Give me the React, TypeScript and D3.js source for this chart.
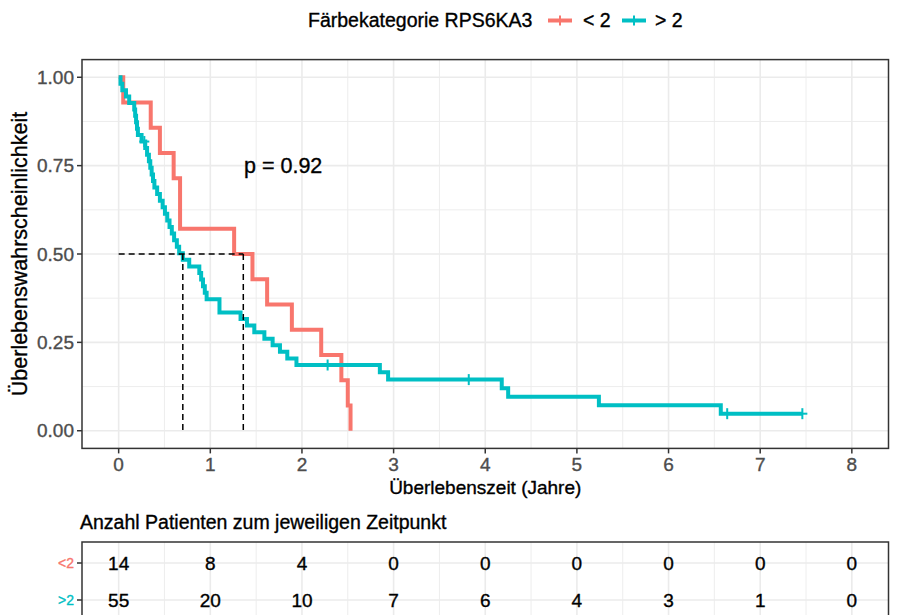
import React from 'react';
import * as d3 from 'd3';

// Kaplan-Meier reading of the two staining groups (time in years)
const lowEvents = [0.05, 0.35, 0.45, 0.6, 0.67, 0.67, 1.26, 1.46, 1.62, 1.89, 2.21, 2.43, 2.5, 2.53];
const lowCensored: number[] = [];

const highEvents = [
  0.02, 0.04, 0.08, 0.115, 0.17, 0.18, 0.19, 0.2, 0.21, 0.25,
  0.29, 0.31, 0.33, 0.345, 0.36, 0.375, 0.39, 0.42, 0.45, 0.48, 0.505, 0.53,
  0.555, 0.58, 0.605, 0.635, 0.66, 0.7, 0.77, 0.88, 0.9, 0.92, 0.94, 0.96,
  1.1, 1.1, 1.33, 1.4, 1.48, 1.59, 1.68, 1.76, 1.84, 1.94,
  2.85, 2.94, 4.18, 4.25, 5.24, 6.57,
];
const highCensored = [0.28, 2.28, 3.82, 6.64, 7.46];

const groupLabels = ['< 2', '> 2'];
const groupColors = ['#F8766D', '#00BFC4'];

const xTicks = [0, 1, 2, 3, 4, 5, 6, 7, 8];
const yTicks = [0, 0.25, 0.5, 0.75, 1];
const yTickLabels = ['0.00', '0.25', '0.50', '0.75', '1.00'];

const riskTimes = [0, 1, 2, 3, 4, 5, 6, 7, 8];
const riskLow = [14, 8, 4, 0, 0, 0, 0, 0, 0];
const riskHigh = [55, 20, 10, 7, 6, 4, 3, 1, 0];

const pValueText = 'p = 0.92';

const FONT = "'Liberation Sans', Arial, Helvetica, sans-serif";

type Pt = { t: number; s: number };

function kaplanMeier(events: number[], censored: number[]) {
  const times = Array.from(new Set([...events, ...censored])).sort((a, b) => a - b);
  let atRisk = events.length + censored.length;
  let s = 1;
  const steps: Pt[] = [{ t: 0, s: 1 }];
  const marks: Pt[] = [];
  for (const t of times) {
    const d = events.filter((e) => e === t).length;
    const c = censored.filter((e) => e === t).length;
    if (d > 0) {
      s *= 1 - d / atRisk;
      steps.push({ t, s });
    }
    if (c > 0) marks.push({ t, s });
    atRisk -= d + c;
  }
  const end = times[times.length - 1];
  if (steps[steps.length - 1].t < end) steps.push({ t: end, s });
  return { steps, marks };
}

function median(steps: Pt[]) {
  for (let i = 0; i < steps.length; i++) {
    if (steps[i].s <= 0.5 + 1e-9) {
      if (Math.abs(steps[i].s - 0.5) < 1e-9 && i + 1 < steps.length) {
        return (steps[i].t + steps[i + 1].t) / 2;
      }
      return steps[i].t;
    }
  }
  return null;
}

// slight stroke so the text gets the heavier look of the reference
const heavy = (fill: string) => ({ fill, stroke: fill, strokeWidth: 0.35 });

const App = () => {
  const x = d3.scaleLinear().domain([-0.4, 8.4]).range([82, 888.5]);
  const y = d3.scaleLinear().domain([-0.05, 1.05]).range([448.4, 59.6]);

  const groups = [kaplanMeier(lowEvents, lowCensored), kaplanMeier(highEvents, highCensored)];
  const medians = groups.map((g) => median(g.steps)).filter((m): m is number => m !== null);

  const line = d3
    .line<Pt>()
    .x((d) => x(d.t))
    .y((d) => y(d.s))
    .curve(d3.curveStepAfter);

  const minorX = d3.range(-0.5, 8.6, 1).filter((v) => v > -0.4 && v < 8.4);
  const minorY = [0.125, 0.375, 0.625, 0.875];

  // risk table
  const tTop = 542;
  const rowY = [563, 600];
  const riskRows = [riskLow, riskHigh];

  return (
    <svg width={899} height={615} style={{ position: 'absolute', left: 0, top: 0, background: '#fff' }} fontFamily={FONT}>
      {/* legend */}
      <g>
        <text x={308} y={20} fontSize={19.5} dominantBaseline="central" {...heavy('#000')}>
          Färbekategorie RPS6KA3
        </text>
        {groupLabels.map((lab, i) => {
          const kx = [548, 622][i];
          const lx = [583, 655][i];
          return (
            <g key={lab}>
              <line x1={kx} x2={kx + 24} y1={20.5} y2={20.5} stroke={groupColors[i]} strokeWidth={4} />
              <line x1={kx + 12} x2={kx + 12} y1={15.5} y2={25.5} stroke={groupColors[i]} strokeWidth={2} />
              <text x={lx} y={20} fontSize={19.5} dominantBaseline="central" {...heavy('#000')}>
                {lab}
              </text>
            </g>
          );
        })}
      </g>

      {/* main panel grid */}
      <g>
        {minorX.map((v) => (
          <line key={'mx' + v} x1={x(v)} x2={x(v)} y1={y(1.05)} y2={y(-0.05)} stroke="#EBEBEB" strokeWidth={0.9} />
        ))}
        {minorY.map((v) => (
          <line key={'my' + v} x1={x(-0.4)} x2={x(8.4)} y1={y(v)} y2={y(v)} stroke="#EBEBEB" strokeWidth={0.9} />
        ))}
        {xTicks.map((v) => (
          <line key={'gx' + v} x1={x(v)} x2={x(v)} y1={y(1.05)} y2={y(-0.05)} stroke="#EBEBEB" strokeWidth={1.6} />
        ))}
        {yTicks.map((v) => (
          <line key={'gy' + v} x1={x(-0.4)} x2={x(8.4)} y1={y(v)} y2={y(v)} stroke="#EBEBEB" strokeWidth={1.6} />
        ))}
      </g>

      {/* curves */}
      {groups.map((g, i) => (
        <path key={'c' + i} d={line(g.steps) || ''} fill="none" stroke={groupColors[i]} strokeWidth={4} />
      ))}
      {groups.map((g, i) =>
        g.marks.map((m, j) => (
          <g key={'m' + i + '-' + j} stroke={groupColors[i]} strokeWidth={2}>
            <line x1={x(m.t)} x2={x(m.t)} y1={y(m.s) - 5.5} y2={y(m.s) + 5.5} />
            <line x1={x(m.t) - 5} x2={x(m.t) + 5} y1={y(m.s)} y2={y(m.s)} />
          </g>
        ))
      )}

      {/* median lines */}
      <g stroke="#000" strokeWidth={1.5} strokeDasharray="6,4" fill="none">
        <line x1={x(0)} x2={x(d3.max(medians) || 0)} y1={y(0.5)} y2={y(0.5)} />
        {medians.map((m, i) => (
          <line key={'md' + i} x1={x(m)} x2={x(m)} y1={y(0.5)} y2={y(0)} />
        ))}
      </g>

      {/* p value */}
      <text x={244} y={y(0.75)} fontSize={21.5} dominantBaseline="central" {...heavy('#000')}>
        {pValueText}
      </text>

      {/* panel border and axes */}
      <rect x={x(-0.4)} y={y(1.05)} width={x(8.4) - x(-0.4)} height={y(-0.05) - y(1.05)} fill="none" stroke="#333" strokeWidth={1.5} />
      {yTicks.map((v, i) => (
        <g key={'yt' + v}>
          <line x1={x(-0.4) - 5} x2={x(-0.4)} y1={y(v)} y2={y(v)} stroke="#333" strokeWidth={1.5} />
          <text x={x(-0.4) - 8} y={y(v)} fontSize={19} textAnchor="end" dominantBaseline="central" {...heavy('#4D4D4D')}>
            {yTickLabels[i]}
          </text>
        </g>
      ))}
      {xTicks.map((v) => (
        <g key={'xt' + v}>
          <line x1={x(v)} x2={x(v)} y1={y(-0.05)} y2={y(-0.05) + 5} stroke="#333" strokeWidth={1.5} />
          <text x={x(v)} y={464} fontSize={19} textAnchor="middle" dominantBaseline="central" {...heavy('#4D4D4D')}>
            {v}
          </text>
        </g>
      ))}
      <text x={(x(-0.4) + x(8.4)) / 2} y={487} fontSize={19} textAnchor="middle" dominantBaseline="central" {...heavy('#000')}>
        Überlebenszeit (Jahre)
      </text>
      <text
        transform={`translate(20, ${(y(1.05) + y(-0.05)) / 2}) rotate(-90)`}
        fontSize={21.5}
        textAnchor="middle"
        dominantBaseline="central"
        {...heavy('#000')}
      >
        Überlebenswahrscheinlichkeit
      </text>

      {/* risk table */}
      <text x={80} y={522} fontSize={19.5} dominantBaseline="central" {...heavy('#000')}>
        Anzahl Patienten zum jeweiligen Zeitpunkt
      </text>
      <g>
        {minorX.map((v) => (
          <line key={'rmx' + v} x1={x(v)} x2={x(v)} y1={tTop} y2={640} stroke="#EBEBEB" strokeWidth={0.9} />
        ))}
        {xTicks.map((v) => (
          <line key={'rgx' + v} x1={x(v)} x2={x(v)} y1={tTop} y2={640} stroke="#EBEBEB" strokeWidth={1.6} />
        ))}
        {rowY.map((ry) => (
          <line key={'rgy' + ry} x1={x(-0.4)} x2={x(8.4)} y1={ry} y2={ry} stroke="#EBEBEB" strokeWidth={1.6} />
        ))}
      </g>
      {riskRows.map((row, i) =>
        row.map((n, j) => (
          <text key={'r' + i + '-' + j} x={x(riskTimes[j])} y={rowY[i]} fontSize={19} textAnchor="middle" dominantBaseline="central" {...heavy('#000')}>
            {n}
          </text>
        ))
      )}
      {groupLabels.map((lab, i) => (
        <g key={'rl' + i}>
          <line x1={x(-0.4) - 5} x2={x(-0.4)} y1={rowY[i]} y2={rowY[i]} stroke="#333" strokeWidth={1.5} />
          <text x={x(-0.4) - 8} y={rowY[i]} fontSize={14} textAnchor="end" dominantBaseline="central" {...heavy(groupColors[i])}>
            {lab.replace(' ', '')}
          </text>
        </g>
      ))}
      <rect x={x(-0.4)} y={tTop} width={x(8.4) - x(-0.4)} height={120} fill="none" stroke="#333" strokeWidth={1.5} />
    </svg>
  );
};

export default App;
